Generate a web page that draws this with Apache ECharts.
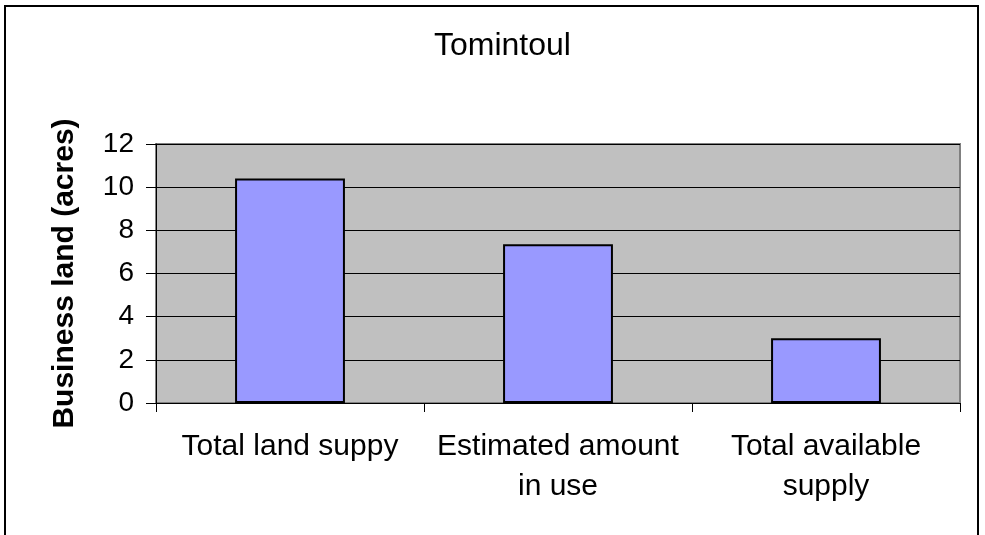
<!DOCTYPE html>
<html>
<head>
<meta charset="utf-8">
<script src="https://cdn.jsdelivr.net/npm/echarts@6/dist/echarts.min.js"></script>
<style>
	html, body { margin: 0; padding: 0; background: #fff; }
	#chart { width: 985px; height: 535px; }
</style>
</head>
<body>
<div id="chart"></div>
<script>
const categories = ['Total land suppy', 'Estimated amount\nin use', 'Total available\nsupply'];
const landAcres = [10.4, 7.35, 3.0];
const yTicks = { min: 0, max: 12, interval: 2 };

const font = 'Liberation Sans, Arial, sans-serif';

const myChart = echarts.init(document.getElementById('chart'), null, { renderer: 'canvas' });

myChart.setOption({
	animation: false,
	backgroundColor: '#fff',
	title: {
		text: 'Tomintoul',
		left: 429,
		top: 25,
		textStyle: { fontFamily: font, fontSize: 32, fontWeight: 'normal', color: '#000' },
	},
	graphic: [
		{
			type: 'rect',
			shape: { x: 5, y: 6, width: 973, height: 620 },
			style: { fill: 'none', stroke: '#000', lineWidth: 2 },
			z: 100,
		},
	],
	grid: {
		left: 156,
		right: 25,
		top: 144,
		bottom: 132,
		show: true,
		backgroundColor: '#C0C0C0',
		borderColor: '#808080',
		borderWidth: 2,
	},
	xAxis: {
		type: 'category',
		data: categories,
		axisLine: { show: true, lineStyle: { color: '#000', width: 1 } },
		axisTick: { show: true, length: 9, lineStyle: { color: '#000' } },
		axisLabel: {
			fontFamily: font,
			fontSize: 30,
			color: '#000',
			margin: 24,
			lineHeight: 40,
			interval: 0,
		},
		splitLine: { show: false },
	},
	yAxis: {
		type: 'value',
		min: yTicks.min,
		max: yTicks.max,
		interval: yTicks.interval,
		name: 'Business land (acres)',
		nameLocation: 'middle',
		nameRotate: 90,
		nameGap: 76,
		nameTextStyle: { fontFamily: font, fontSize: 30, fontWeight: 'bold', color: '#000' },
		axisLine: { show: true, lineStyle: { color: '#000', width: 1 } },
		axisTick: { show: true, length: 10, lineStyle: { color: '#000' } },
		axisLabel: { fontFamily: font, fontSize: 28, color: '#000', margin: 22 },
		splitLine: { show: true, lineStyle: { color: '#000', width: 1 } },
	},
	series: [
		{
			type: 'bar',
			data: landAcres,
			barWidth: '41%',
			itemStyle: { color: '#9999FF', borderColor: '#000', borderWidth: 2 },
		},
	],
});
</script>
</body>
</html>
